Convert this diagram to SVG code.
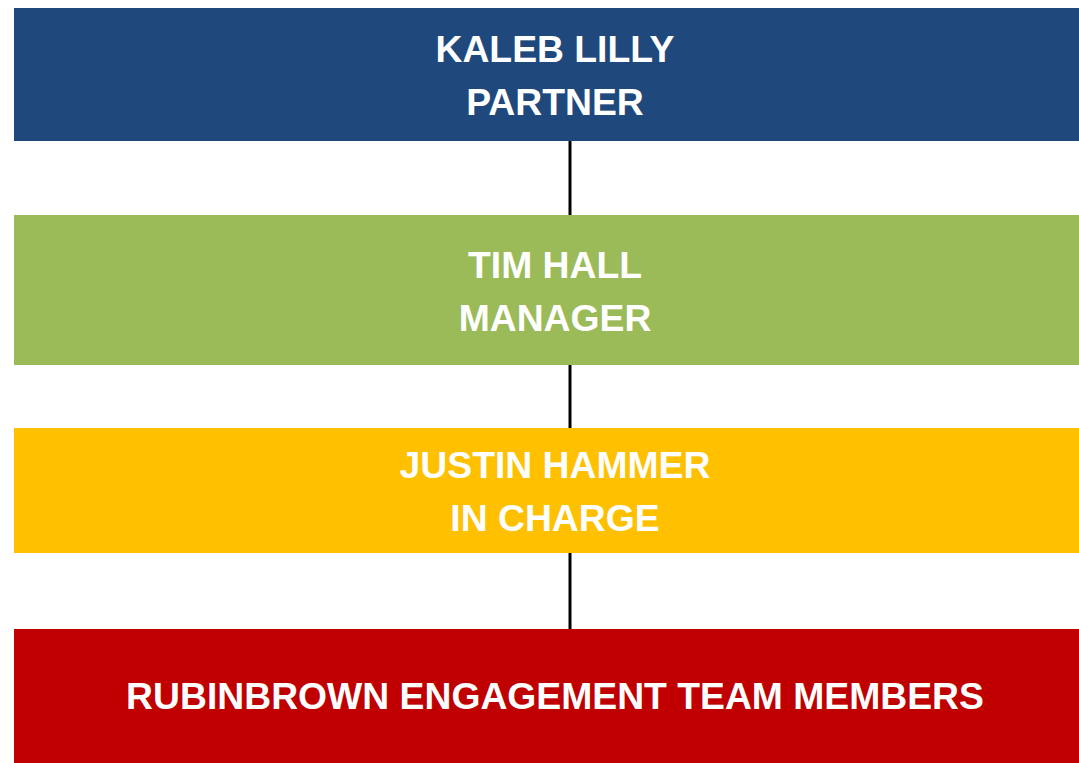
<svg xmlns="http://www.w3.org/2000/svg" width="1079" height="763" viewBox="0 0 1079 763">
<style>
.t{font-family:"Liberation Sans",Arial,sans-serif;font-weight:bold;font-size:37.3px;fill:#ffffff;text-anchor:middle}
.c{stroke:#000000;stroke-width:3;fill:none}
</style>
<rect width="1079" height="763" fill="#ffffff"/>
<g id="connectors">
<line class="c" x1="570" y1="141" x2="570" y2="215"/>
<line class="c" x1="570" y1="365" x2="570" y2="428"/>
<line class="c" x1="570" y1="553" x2="570" y2="629"/>
</g>
<g id="partner">
<rect x="14" y="8" width="1065" height="133" fill="#1f497d"/>
<text class="t" x="555" y="62">KALEB LILLY</text>
<text class="t" x="555" y="115">PARTNER</text>
</g>
<g id="manager">
<rect x="14" y="215" width="1065" height="150" fill="#9bbb59"/>
<text class="t" x="555" y="278">TIM HALL</text>
<text class="t" x="555" y="331">MANAGER</text>
</g>
<g id="in-charge">
<rect x="14" y="428" width="1065" height="125" fill="#ffc000"/>
<text class="t" x="555" y="478">JUSTIN HAMMER</text>
<text class="t" x="555" y="531">IN CHARGE</text>
</g>
<g id="team">
<rect x="14" y="629" width="1065" height="134" fill="#c00000"/>
<text class="t" x="555" y="709">RUBINBROWN ENGAGEMENT TEAM MEMBERS</text>
</g>
</svg>
